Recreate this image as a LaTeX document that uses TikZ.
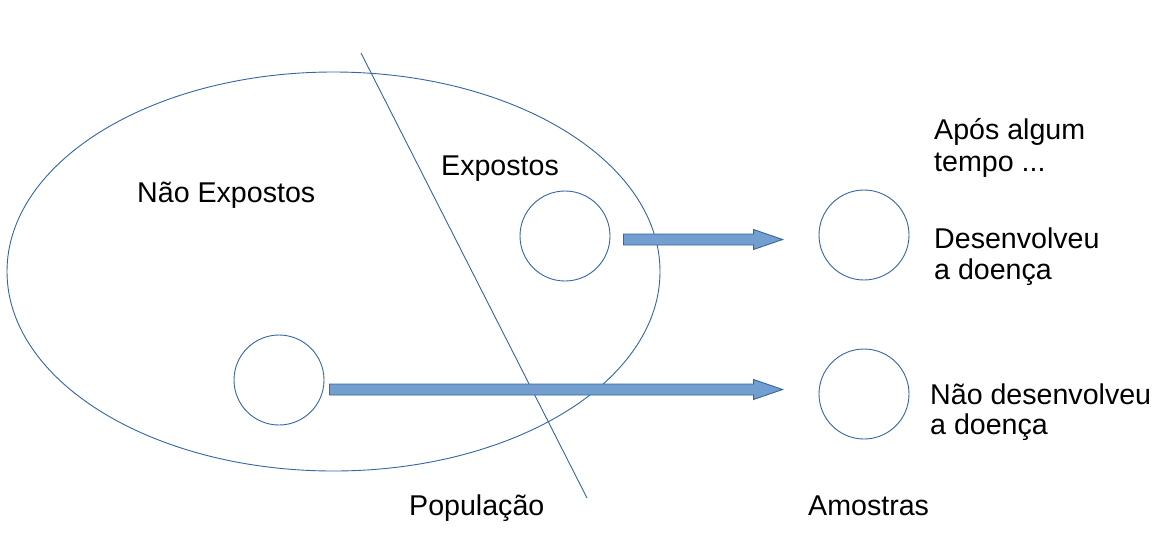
\documentclass[tikz,border=0pt]{standalone}
\usepackage{fontspec}
\setmainfont{Liberation Sans}
\usetikzlibrary{calc,shapes.geometric}
\definecolor{lo}{HTML}{3465A4}
\definecolor{lofill}{HTML}{729FCF}
\newcommand\blkarrow[2]{%
  \draw[blk] ($(#1)+(0,-5.5)$) -- ($(#2)+(-29,-5.5)$) -- ($(#2)+(-29,-10)$) -- (#2)
    -- ($(#2)+(-29,10)$) -- ($(#2)+(-29,5.5)$) -- ($(#1)+(0,5.5)$) -- cycle;}
\begin{document}
\begin{tikzpicture}[x=1pt,y=-1pt,
  circ/.style={circle,draw=lo,line width=0.9pt,minimum size=90pt,inner sep=0pt},
  lbl/.style={font=\fontsize{28.6}{31}\selectfont,inner sep=0pt,anchor=base west},
  blk/.style={draw=lo,fill=lofill,line width=0.9pt,line join=miter}]
\useasboundingbox (0,0) rectangle (1154,544);
% population ellipse
\node[ellipse,draw=lo,line width=0.9pt,minimum width=653pt,minimum height=399pt,inner sep=0pt] (popE) at (333.5,271.5) {};
% dividing line
\coordinate (l1) at (361,53);
\coordinate (l2) at (587,498);
\draw[lo,line width=0.9pt] (l1) -- (l2);
% circles
\node[circ] (A) at (565,236) {};
\node[circ] (B) at (279,380) {};
\node[circ] (C) at (864,235) {};
\node[circ] (D) at (864,394) {};
% arrows
\coordinate (a1s) at ($(A.east)+(13,3.5)$);
\coordinate (a1t) at ($(C.west)+(-36,4.5)$);
\coordinate (a2s) at ($(B.east)+(5,9.5)$);
\coordinate (a2t) at ($(D.west)+(-36,-4.5)$);
\blkarrow{a1s}{a1t}
\blkarrow{a2s}{a2t}
% labels
\node[lbl] (nexp) at (137,202) {Não Expostos};
\node[lbl] (exp) at (441,175) {Expostos};
\node[lbl] (apos1) at (934,139) {Após algum};
\node[lbl] (apos2) at (934,171) {tempo ...};
\node[lbl] (des1) at (934,248) {Desenvolveu};
\node[lbl] (des2) at (934,279) {a doença};
\node[lbl] (nd1) at (930,404) {Não desenvolveu};
\node[lbl] (nd2) at (930,434) {a doença};
\node[lbl] (popl) at (409,515) {População};
\node[lbl] (am) at (808,515) {Amostras};
\end{tikzpicture}
\end{document}
